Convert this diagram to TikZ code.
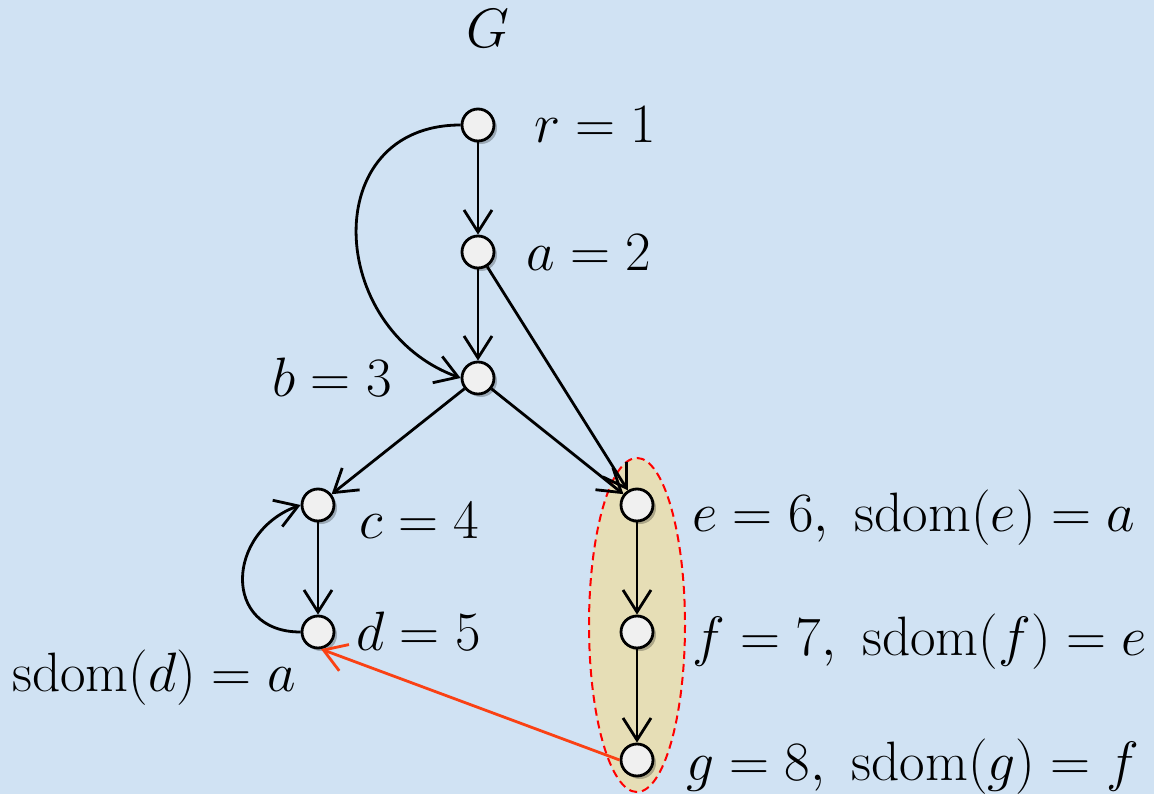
\RequirePackage{fix-cm}
\documentclass[tikz,border=0pt]{standalone}
\usetikzlibrary{arrows.meta,shadows}
\definecolor{bgblue}{RGB}{208,226,243}
\definecolor{setfill}{RGB}{230,222,182}
\definecolor{edgered}{RGB}{250,65,20}
\begin{document}
\begin{tikzpicture}[x=1pt,y=-1pt,
  vert/.style={circle, draw=black, line width=2.8pt, fill=gray!12, minimum size=32pt, inner sep=0pt,
    drop shadow={shadow xshift=3pt, shadow yshift=-3pt, opacity=0.25, fill=black}},
  lbl/.style={font=\fontsize{55.5}{62}\selectfont, inner sep=0pt, anchor=base west},
  arc/.style={line width=2.8pt, -{Straight Barb[length=22pt,width=28pt]}},
  redarc/.style={arc, draw=edgered}]
\fill[bgblue] (0,0) rectangle (1154,794);
\useasboundingbox (0,0) rectangle (1154,794);
% highlighted set
\draw[fill=setfill, draw=red, line width=2pt, dash pattern=on 8pt off 5pt] (637,625) ellipse [x radius=48, y radius=167];
% vertices
\node[vert] (r) at (478,125) {};
\node[vert] (a) at (478,252) {};
\node[vert] (b) at (478,378) {};
\node[vert] (c) at (318,505) {};
\node[vert] (d) at (318,632) {};
\node[vert] (e) at (637,505) {};
\node[vert] (f) at (637,632) {};
\node[vert] (g) at (637,760) {};
% labels
\node[lbl, anchor=base] (lG) at (488,48) {$G$};
\node[lbl] (lr) at (534,143) {$r=1$};
\node[lbl] (la) at (526,271) {$a=2$};
\node[lbl] (lb) at (272,396) {$b=3$};
\node[lbl] (lc) at (359,538) {$c=4$};
\node[lbl] (ld) at (356,650) {$d=5$};
\node[lbl] (lsd) at (12,691) {$\mathrm{sdom}(d)=a$};
\node[lbl] (le) at (692,531) {$e=6,\ \mathrm{sdom}(e)=a$};
\node[lbl] (lf) at (692,655) {$f=7,\ \mathrm{sdom}(f)=e$};
\node[lbl] (lg) at (686,780) {$g=8,\ \mathrm{sdom}(g)=f$};
% edges
\draw[arc] (r) -- (a);
\draw[arc] (r.west) to[out=180, in=160, looseness=1.45] (b.west);
\draw[arc] (a) -- (b);
\draw[arc] (a) -- (e);
\draw[arc] (b) -- (c);
\draw[arc] (b) -- (e);
\draw[arc] (c) -- (d);
\draw[arc] (d.west) to[out=180, in=200, looseness=1.6] (c.west);
\draw[arc] (e) -- (f);
\draw[arc] (f) -- (g);
\draw[redarc] (g.west) -- (d.-80);
\end{tikzpicture}
\end{document}
